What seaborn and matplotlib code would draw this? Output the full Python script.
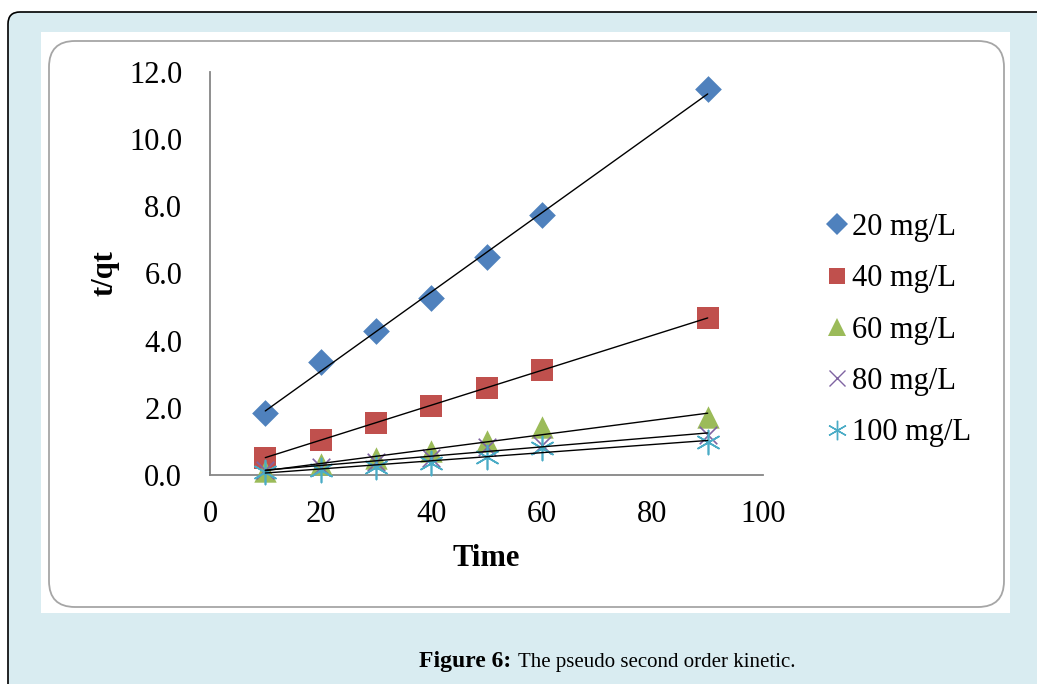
import numpy as np
import pandas as pd
import matplotlib
matplotlib.use("Agg")
import matplotlib.pyplot as plt
import seaborn as sns
from matplotlib.patches import FancyBboxPatch, Rectangle
from matplotlib.transforms import IdentityTransform

# ---------------- data ----------------
time = [10, 20, 30, 40, 50, 60, 90]
c20 = [1.85, 3.35, 4.30, 5.28, 6.50, 7.73, 11.48]
c40 = [0.52, 1.05, 1.55, 2.06, 2.60, 3.12, 4.68]
c60 = [0.12, 0.32, 0.50, 0.72, 1.02, 1.42, 1.72]
c80 = [0.15, 0.23, 0.40, 0.52, 0.82, 0.90, 1.18]
c100 = [0.10, 0.16, 0.25, 0.36, 0.55, 0.80, 0.98]
series_labels = ["20 mg/L", "40 mg/L", "60 mg/L", "80 mg/L", "100 mg/L"]
x_ticks = [0, 20, 40, 60, 80, 100]
y_ticks = [0, 2, 4, 6, 8, 10, 12]

sns.set_theme(style="white")
plt.rcParams["font.family"] = ["Liberation Serif", "DejaVu Serif"]

W, H = 1037, 684
fig = plt.figure(figsize=(W / 100, H / 100), dpi=100)
fig.patch.set_facecolor("white")

# outer light-blue rounded box with black border
outer = FancyBboxPatch((8, -40), W + 60, (H - 12) + 40,
                       boxstyle="round,pad=0,rounding_size=12",
                       transform=IdentityTransform(), facecolor="#d9ecf1",
                       edgecolor="black", linewidth=1.2, zorder=0)
fig.patches.append(outer)
# inner white rectangle
inner = Rectangle((41, H - 613), 1010 - 41, 613 - 32, transform=IdentityTransform(),
                  facecolor="white", edgecolor="none", zorder=0.5)
fig.patches.append(inner)
# gray rounded chart panel
panel = FancyBboxPatch((49, H - 607), 1004 - 49, 607 - 41,
                       boxstyle="round,pad=0,rounding_size=26",
                       transform=IdentityTransform(), facecolor="white",
                       edgecolor="#a6a6a6", linewidth=1.3, zorder=0.6)
fig.patches.append(panel)

ax = fig.add_axes([210 / W, (H - 475) / H, (763 - 210) / W, (475 - 72) / H])
ax.set_facecolor("none")
ax.set_zorder(5)

df = pd.DataFrame({"Time": time, "c20": c20, "c40": c40, "c60": c60,
                   "c80": c80, "c100": c100})
cols = ["c20", "c40", "c60", "c80", "c100"]
colors = ["#4f81bd", "#c0504d", "#9bbb59", "#8064a2", "#4bacc6"]
markers = ["D", "s", "^", "x", (6, 2, 0)]
sizes = [185, 230, 260, 160, 300]
leg_sizes = [11.5, 12, 13, 12, 14]

handles = []
for col, colr, mk, sz, lsz in zip(cols, colors, markers, sizes, leg_sizes):
    filled = mk in ("D", "s", "^")
    if filled:
        sns.scatterplot(data=df, x="Time", y=col, marker=mk, color=colr, s=sz,
                        linewidth=0, ax=ax, clip_on=False, zorder=3)
    else:
        sns.scatterplot(data=df, x="Time", y=col, marker=mk, color=colr, s=sz,
                        linewidth=1.2, ax=ax, clip_on=False, zorder=3)
    sns.regplot(data=df, x="Time", y=col, scatter=False, ci=None, ax=ax,
                line_kws=dict(color="black", linewidth=1.0, zorder=4))
    h = plt.Line2D([], [], linestyle="none", marker=mk, color=colr,
                   markersize=lsz, markeredgewidth=0 if filled else 1.0)
    handles.append(h)

ax.set_xlim(0, 100)
ax.set_ylim(0, 12)
ax.set_xticks(x_ticks)
ax.set_yticks(y_ticks)
ax.set_yticklabels([f"{v:.1f}" for v in y_ticks])
ax.set_xticklabels([str(v) for v in x_ticks])
for s in ["top", "right"]:
    ax.spines[s].set_visible(False)
for s in ["left", "bottom"]:
    ax.spines[s].set_color("#868686")
    ax.spines[s].set_linewidth(1.3)
ax.tick_params(axis="both", direction="in", length=7, width=1.3, color="#868686",
               labelsize=22, labelcolor="black")
ax.tick_params(axis="y", pad=20)
ax.tick_params(axis="x", pad=18)

ax.set_xlabel("Time", fontsize=22, fontweight="bold", labelpad=11, color="black")
ax.set_ylabel("t/qt", fontsize=22, fontweight="bold", labelpad=7, color="black")

leg = ax.legend(handles, series_labels, loc="upper left",
                bbox_to_anchor=(828 / W, (H - 213) / H), bbox_transform=fig.transFigure,
                frameon=False, fontsize=22, handlelength=0.6, handletextpad=0.2,
                labelspacing=0.73, borderaxespad=0, borderpad=0)
for t in leg.get_texts():
    t.set_color("black")

# caption
fig.text(511 / W, (H - 662) / H, "Figure 6:", fontsize=17, fontweight="bold",
         ha="right", va="center", color="black",
         family=["Liberation Serif", "DejaVu Serif"])
fig.text(518 / W, (H - 662) / H, "The pseudo second order kinetic.", fontsize=15,
         ha="left", va="center", color="black",
         family=["Liberation Serif", "DejaVu Serif"])

fig.savefig("out.png", dpi=100, facecolor=fig.get_facecolor())
